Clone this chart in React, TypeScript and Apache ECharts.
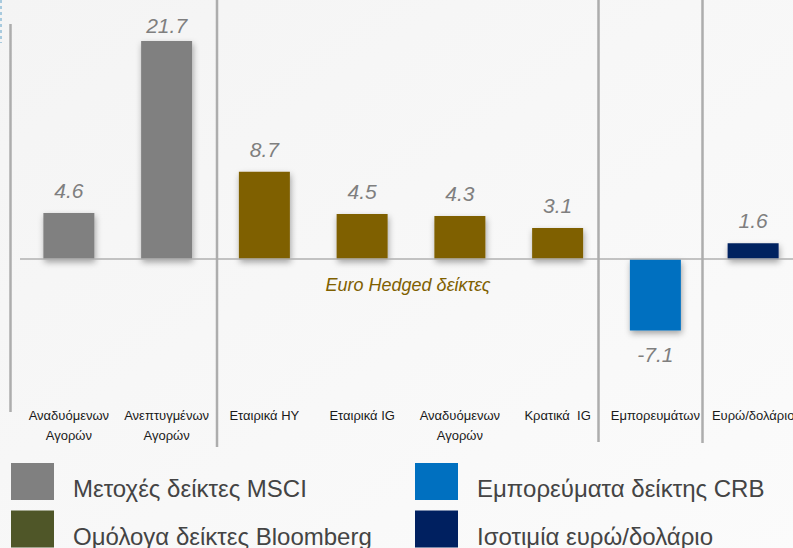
import React, { useEffect, useRef } from "react";
import * as echarts from "echarts";

const categories = [
  "Αναδυόμενων\nΑγορών",
  "Ανεπτυγμένων\nΑγορών",
  "Εταιρικά HY",
  "Εταιρικά IG",
  "Αναδυόμενων\nΑγορών",
  "Κρατικά  IG",
  "Εμπορευμάτων",
  "Ευρώ/δολάριο",
];

const seriesNames = [
  "Μετοχές δείκτες MSCI",
  "Ομόλογα δείκτες Bloomberg",
  "Εμπορεύματα δείκτης CRB",
  "Ισοτιμία ευρώ/δολάριο",
];

const msciValues = [4.6, 21.7, null, null, null, null, null, null];
const bloombergValues = [null, null, 8.7, 4.5, 4.3, 3.1, null, null];
const crbValues = [null, null, null, null, null, null, -7.1, null];
const eurUsdValues = [null, null, null, null, null, null, null, 1.6];

const barColors = ["#808080", "#7f6000", "#0070c0", "#002060"];
const legendColors = ["#808080", "#4f5628", "#0070c0", "#002060"];

const annotationText = "Euro Hedged δείκτες";

export default function App() {
  const ref = useRef<HTMLDivElement>(null);
  useEffect(() => {
    document.body.style.margin = "0";
    if (!ref.current) return;
    const chart = echarts.init(ref.current, undefined, { renderer: "svg" });
    const allValues = [msciValues, bloombergValues, crbValues, eurUsdValues];
    const font = "'Liberation Sans', Arial, sans-serif";
    const yMax = 22;
    const series: any[] = allValues.map((vals, i) => ({
      name: seriesNames[i],
      type: "bar",
      stack: "all",
      barWidth: 51,
      data: vals.map((v) =>
        v === null
          ? "-"
          : {
              value: v,
              label: {
                position: v < 0 ? "bottom" : "top",
                distance: v < 0 ? 13 : v > yMax - 1 ? 5 : 12,
              },
            }
      ),
      itemStyle: {
        color: barColors[i],
        shadowBlur: 6,
        shadowOffsetX: 1,
        shadowOffsetY: 3,
        shadowColor: "rgba(0,0,0,0.35)",
      },
      label: {
        show: true,
        formatter: (p: any) => Number(p.value).toFixed(1),
        fontFamily: font,
        fontStyle: "italic",
        fontSize: 21,
        color: "#7f7f7f",
      },
    }));
    series[0].markLine = {
      silent: true,
      symbol: "none",
      label: { show: false },
      lineStyle: { color: "#b0b0b0", width: 1.5, type: "solid" },
      data: [{ yAxis: 0 }],
    };
    const sepLine = (x: number, y1: number, y2: number) => ({
      type: "line",
      shape: { x1: x, y1, x2: x, y2 },
      style: { stroke: "#adadad", lineWidth: 2.5 },
      z: 10,
    });
    const legendBase = {
      top: 463,
      orient: "vertical",
      padding: 0,
      itemWidth: 43,
      itemHeight: 37,
      itemGap: 10,
      icon: "rect",
      selectedMode: false,
      formatter: "{t|{name}}",
      textStyle: {
        fontSize: 24,
        color: "#444444",
        fontFamily: font,
        rich: {
          t: {
            fontSize: 24,
            color: "#444444",
            fontFamily: font,
            padding: [14, 0, 0, 14],
          },
        },
      },
    };
    chart.setOption({
      animation: false,
      backgroundColor: {
        type: "linear",
        x: 0,
        y: 0,
        x2: 1,
        y2: 1,
        colorStops: [
          { offset: 0, color: "#f4f4f4" },
          { offset: 1, color: "#fbfbfb" },
        ],
      },
      textStyle: { fontFamily: font },
      grid: { left: 20, top: 38, right: 8, height: 362, containLabel: false },
      xAxis: {
        type: "category",
        data: categories,
        axisLine: { show: false, onZero: false },
        axisTick: { show: false },
        axisLabel: {
          interval: 0,
          margin: 5,
          fontSize: 13,
          lineHeight: 20,
          color: "#1a1a1a",
          fontFamily: font,
        },
      },
      yAxis: {
        type: "value",
        min: -14,
        max: yMax,
        show: false,
        splitLine: { show: false },
      },
      legend: [
        {
          ...legendBase,
          left: 11,
          data: [0, 1].map((i) => ({ name: seriesNames[i], itemStyle: { color: legendColors[i], shadowBlur: 0 } })),
        },
        {
          ...legendBase,
          left: 415,
          data: [2, 3].map((i) => ({ name: seriesNames[i], itemStyle: { color: legendColors[i], shadowBlur: 0 } })),
        },
      ],
      graphic: [
        sepLine(10.5, 24, 412),
        sepLine(217, 0, 447),
        sepLine(598.5, 0, 442),
        sepLine(702.5, 0, 443),
        {
          type: "line",
          shape: { x1: 1, y1: 0, x2: 1, y2: 43 },
          style: { stroke: "#8fbcd6", lineWidth: 1.5, lineDash: [3, 3] },
        },
        {
          type: "text",
          x: 408,
          y: 285,
          style: {
            text: annotationText,
            fontFamily: font,
            fontStyle: "italic",
            fontSize: 18,
            fill: "#7f6000",
            textAlign: "center",
            textVerticalAlign: "middle",
          },
        },
      ],
      series,
    });
    return () => chart.dispose();
  }, []);
  return (
    <div style={{ position: "absolute", left: 0, top: 0, width: 793, height: 548, overflow: "hidden" }}>
      <div ref={ref} style={{ width: 810, height: 548 }} />
    </div>
  );
}
